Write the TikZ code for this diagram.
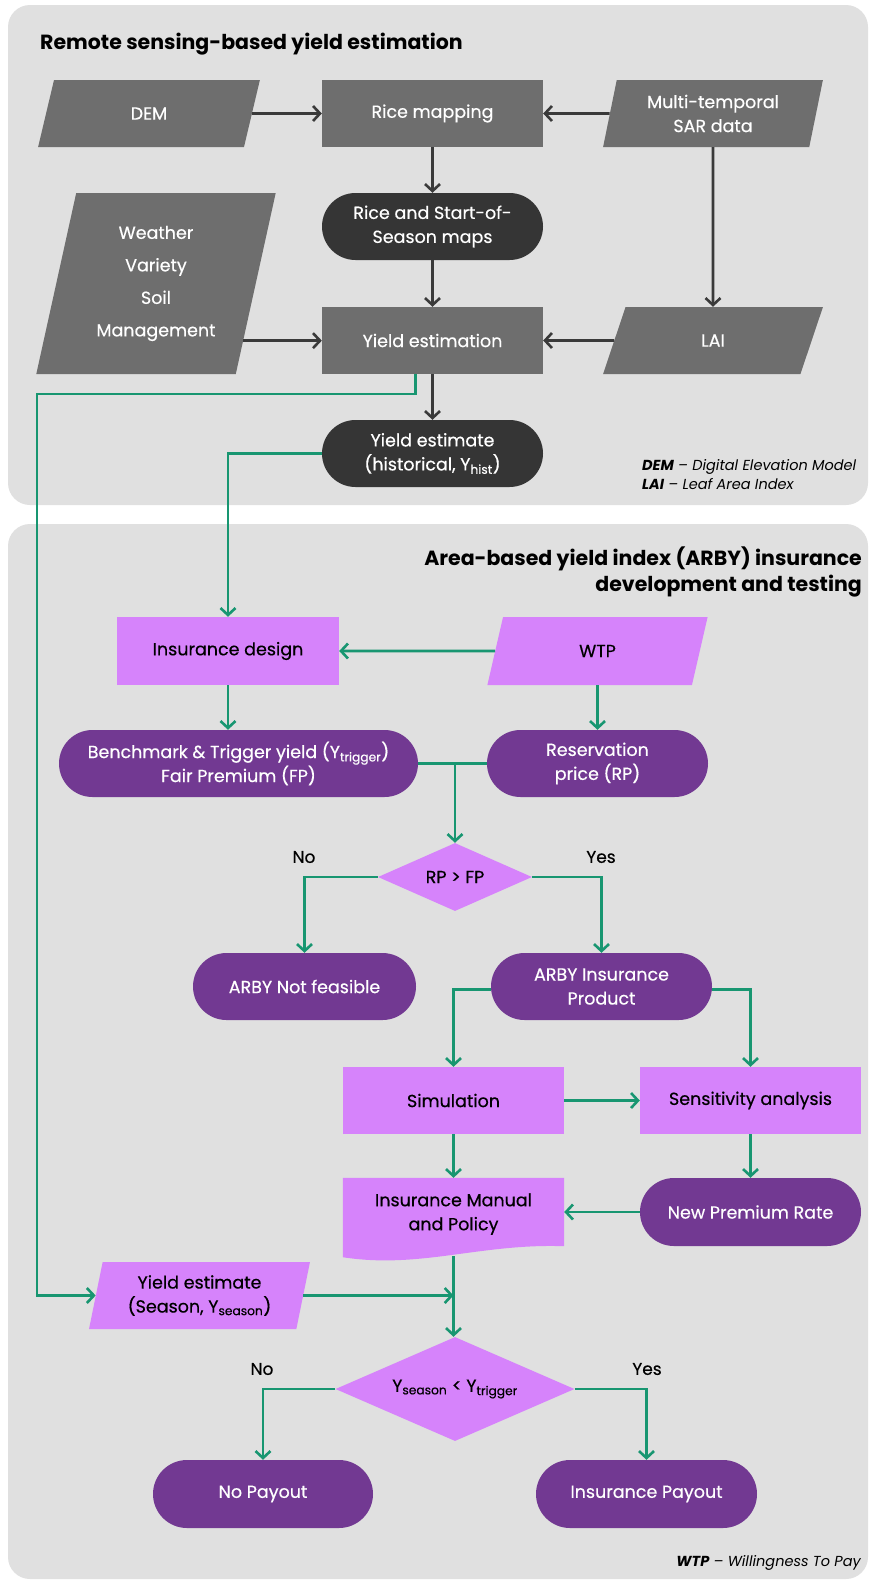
\documentclass[tikz,border=0pt]{standalone}
\usepackage{fontspec}
\setmainfont{Poppins}
\newfontfamily\medfont{Poppins}[FakeBold=0.45]
\usetikzlibrary{shapes.geometric,shapes.misc,arrows.meta,calc}
\definecolor{panelgray}{RGB}{224,224,224}
\definecolor{midgray}{RGB}{110,110,110}
\definecolor{darknode}{RGB}{53,53,53}
\definecolor{arrowgray}{RGB}{58,58,58}
\definecolor{flowgreen}{RGB}{24,150,113}
\definecolor{lightpurple}{RGB}{214,131,251}
\definecolor{darkpurple}{RGB}{114,57,146}
\pgfdeclarelayer{panel}
\pgfdeclarelayer{docfill}
\pgfsetlayers{panel,docfill,main}
\begin{document}
\begin{tikzpicture}[x=1pt,y=-1pt,
  base/.style={inner sep=0pt, minimum width=221pt, minimum height=67pt, align=center,
    font=\medfont\fontsize{17.5}{24}\selectfont},
  grayrect/.style={base, rectangle, fill=midgray, text=white},
  grayio/.style={base, trapezium, trapezium left angle=76, trapezium right angle=104,
    trapezium stretches=true, fill=midgray, text=white},
  darkterm/.style={base, rounded rectangle, fill=darknode, text=white},
  lprect/.style={base, rectangle, fill=lightpurple, text=black},
  lpio/.style={base, trapezium, trapezium left angle=76, trapezium right angle=104,
    trapezium stretches=true, fill=lightpurple, text=black},
  dpterm/.style={base, rounded rectangle, fill=darkpurple, text=white},
  lpdec/.style={base, diamond, fill=lightpurple, text=black},
  darr/.style={draw=arrowgray, line width=2.6pt, -{Straight Barb[length=7pt,width=15pt]}},
  garr/.style={draw=flowgreen, line width=2.6pt, -{Straight Barb[length=7pt,width=15pt]}},
  gline/.style={draw=flowgreen, line width=2.6pt},
  lbl/.style={font=\medfont\fontsize{17}{20}\selectfont, text=black, inner sep=0pt},
  ttl/.style={font=\bfseries\fontsize{20.5}{26}\selectfont, text=black, inner sep=0pt},
  leg/.style={font=\itshape\fontsize{14.5}{19}\selectfont, text=black, inner sep=0pt}
]
\useasboundingbox (0,0) rectangle (870,1582);
\begin{pgfonlayer}{panel}
  \fill[white] (0,0) rectangle (870,1582);
  \fill[panelgray, rounded corners=22pt] (8,5) rectangle (868,505);
  \fill[panelgray, rounded corners=22pt] (8,524) rectangle (868,1579);
\end{pgfonlayer}

% titles
\node[ttl, anchor=west] (t1) at (40,44) {Remote sensing-based yield estimation};
\node[ttl, anchor=east, align=right] (t2) at (862,571.5) {Area-based yield index (ARBY) insurance\\development and testing};
\node[leg, anchor=west, align=left] (leg1) at (642,474.5) {\textbf{DEM} – Digital Elevation Model\\\textbf{LAI} – Leaf Area Index};
\node[leg, anchor=east] (leg2) at (861,1563) {\textbf{WTP} – Willingness To Pay};

% top section
\node[grayio, minimum width=222pt] (dem) at (149,113.5) {DEM};
\node[grayrect] (rice) at (432.5,113.5) {Rice mapping};
\node[grayio, minimum width=220pt] (sar) at (713,113.5) {Multi-temporal\\SAR data};
\node[darkterm] (maps) at (432.5,226.5) {Rice and Start-of-\\Season maps};
\node[grayio, minimum width=240pt, minimum height=181pt, trapezium left angle=75.5, trapezium right angle=104.5,
  font=\medfont\fontsize{17.5}{32.5}\selectfont] (weather) at (156,283.5) {Weather\\Variety\\Soil\\Management};
\node[grayrect] (yest) at (432.5,340.5) {Yield estimation};
\node[grayio, minimum width=220pt] (lai) at (713,340.5) {LAI};
\node[darkterm] (yhist) at (432.5,453.5) {Yield estimate\\(historical, Y\textsubscript{hist})};

% bottom section
\node[lprect, minimum width=222pt, minimum height=68pt] (insdes) at (228,651) {Insurance design};
\node[lpio, minimum height=68pt] (wtp) at (597.5,651) {WTP};
\node[dpterm, minimum width=359pt] (bench) at (238.5,763.5) {Benchmark \& Trigger yield (Y\textsubscript{trigger})\\Fair Premium (FP)};
\node[dpterm] (resp) at (597.5,763.5) {Reservation\\price (RP)};
\node[lpdec, minimum width=154pt, minimum height=68pt, aspect=2.26] (rpfp) at (455,877) {RP > FP};
\node[dpterm, minimum width=223pt] (notfeas) at (304.5,986.5) {ARBY Not feasible};
\node[dpterm] (product) at (601.5,986.5) {ARBY Insurance\\Product};
\node[lprect] (sim) at (453.5,1100.5) {Simulation};
\node[lprect] (sens) at (750.5,1100.5) {Sensitivity analysis};
\node[base, text=black, minimum height=72pt] (manual) at (453.5,1214) {Insurance Manual\\and Policy};
\node[dpterm, minimum height=68pt] (npr) at (750.5,1212) {New Premium Rate};
\node[lpio] (yseason) at (199.5,1295.5) {Yield estimate\\(Season, Y\textsubscript{season})};
\node[lpdec, minimum width=239pt, minimum height=104pt, aspect=2.3] (dec2) at (455,1389) {Y\textsubscript{season} < Y\textsubscript{trigger}};
\node[dpterm, minimum width=220pt, minimum height=68pt] (nopay) at (263,1494) {No Payout};
\node[dpterm, minimum height=68pt] (inspay) at (646.5,1494) {Insurance Payout};

\begin{pgfonlayer}{docfill}
  \fill[lightpurple] (manual.north west) -- (manual.north east) -- ($(manual.south east)+(0,-4)$)
    .. controls +(-84,-3) and +(77,12) .. ($(manual.south west)+(0,7)$) -- cycle;
\end{pgfonlayer}
\coordinate (manbot) at ($(manual.south)+(0,6)$);

% labels
\node[lbl] (no1) at (304,857) {No};
\node[lbl] (yes1) at (601,857) {Yes};
\node[lbl] (no2) at (262,1369) {No};
\node[lbl] (yes2) at (647,1369) {Yes};

% dark connectors
\draw[darr] (dem) -- (rice);
\draw[darr] (sar) -- (rice);
\draw[darr] (rice) -- (maps);
\draw[darr] (maps) -- (yest);
\draw[darr] (sar) -- (lai);
\coordinate (wout) at ($(weather.bottom right corner)!0.185!(weather.top right corner)$);
\draw[darr] (wout) -- (wout -| yest.west);
\draw[darr] (lai) -- (yest);
\draw[darr] (yest) -- (yhist);

% green connectors
\coordinate (gstart) at ($(yest.south)+(-17,0)$);
\coordinate (gcorner) at (37,394);
\draw[garr] (gstart) |- (gcorner) |- (yseason.west);
\draw[garr] (yhist.west) -| (insdes.north);
\draw[garr] (wtp) -- (insdes);
\draw[garr] (insdes.south) -- (insdes.south |- bench.north);
\draw[garr] (wtp) -- (resp);
\draw[gline] (bench.east) -- (resp.west);
\draw[garr] (bench.east -| rpfp.north) -- (rpfp.north);
\draw[garr] (rpfp.west) -| (notfeas.north);
\draw[garr] (rpfp.east) -| (product.north);
\draw[garr] ($(product.west)+(0,3)$) -| (sim.north);
\draw[garr] ($(product.east)+(0,3)$) -| (sens.north);
\draw[garr] (sim) -- (sens);
\draw[garr] (sim) -- (sim.south |- manual.north);
\draw[garr] (sens) -- (npr);
\draw[garr] (npr.west) -- (npr.west -| manual.east);
\draw[garr] (yseason.east) -- (yseason.east -| manbot);
\draw[garr] (manbot) -- (manbot |- dec2.north);
\draw[garr] (dec2.west) -| (nopay.north);
\draw[garr] (dec2.east) -| (inspay.north);
\end{tikzpicture}
\end{document}
